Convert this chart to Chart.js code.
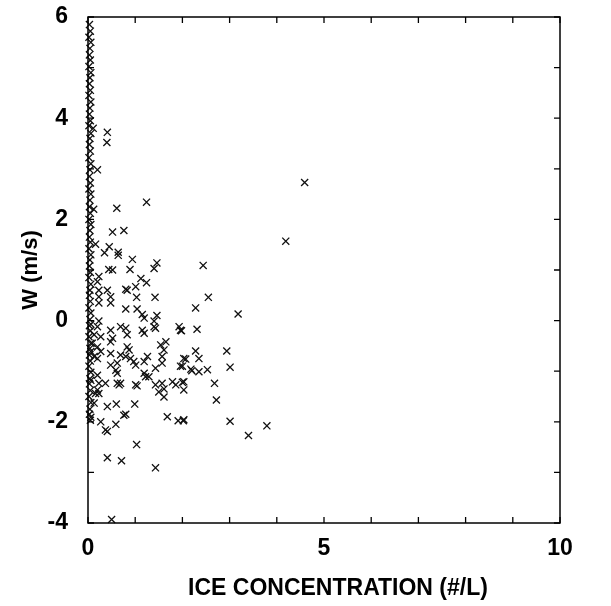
<!DOCTYPE html>
<html>
<head>
<meta charset="utf-8">
<script src="https://cdn.jsdelivr.net/npm/chart.js@4/dist/chart.umd.min.js"></script>
<style>
  html, body { margin: 0; padding: 0; background: #fff; }
  #wrap { width: 611px; height: 606px; }
</style>
</head>
<body>
<div id="wrap"><canvas id="c" width="611" height="606"></canvas></div>
<script>
// Ice concentration (#/L) against vertical velocity W (m/s)
const xRange = [0, 10];
const yRange = [-4, 6];
const xTickLabels = ['0', '5', '10'];
const yTickLabels = ['-4', '-2', '0', '2', '4', '6'];
const xTitle = 'ICE CONCENTRATION (#/L)';
const yTitle = 'W (m/s)';

// samples packed against the zero-concentration edge
const edgeConc = [
  0.03, 0.05, 0.02, 0.06, 0.04, 0.03, 0.05, 0.02, 0.06, 0.04,
  0.03, 0.05, 0.02, 0.06, 0.04, 0.03, 0.05, 0.02, 0.06, 0.04,
  0.03, 0.05, 0.02, 0.06, 0.04, 0.03, 0.05, 0.02, 0.06, 0.04,
  0.03, 0.05, 0.02, 0.06, 0.04, 0.03, 0.05, 0.02, 0.06, 0.04,
  0.03, 0.05, 0.02, 0.06, 0.04, 0.03, 0.05, 0.02, 0.06, 0.04,
  0.03, 0.05, 0.02, 0.06, 0.04, 0.03, 0.05, 0.02, 0.06, 0.04,
  0.03, 0.05, 0.02, 0.06, 0.04, 0.03, 0.05
];
const edgeW = [
  5.85, 5.72, 5.60, 5.50, 5.38, 5.25, 5.15, 5.02, 4.90, 4.80,
  4.68, 4.55, 4.45, 4.32, 4.20, 4.08, 3.95, 3.85, 3.70, 3.60,
  3.48, 3.35, 3.22, 3.10, 2.98, 2.85, 2.72, 2.60, 2.50, 2.38,
  2.25, 2.12, 2.00, 1.90, 1.78, 1.65, 1.55, 1.42, 1.30, 1.20,
  1.08, 0.95, 0.85, 0.72, 0.60, 0.50, 0.38, 0.25, 0.15, 0.02,
  -0.10, -0.20, -0.32, -0.45, -0.55, -0.68, -0.80, -0.90, -1.02, -1.15,
  -1.25, -1.38, -1.50, -1.62, -1.75, -1.85, -1.97
];

// remaining samples
const iceConc = [
  4.59, 4.19, 2.44, 2.55, 2.28, 3.18, 1.98, 2.31, 2.28, 2.94,
  2.35, 2.07, 2.00, 2.20, 2.35, 2.53, 3.01, 2.00, 2.03, 2.68,
  2.72, 2.02, 3.01, 3.79, 3.40,
  0.11, 0.41, 0.40, 0.20, 0.12,
  1.24, 0.61, 0.52, 0.76, 0.16, 0.45, 0.35, 0.64, 0.64, 0.94,
  1.46, 1.40, 0.44, 0.52, 0.89, 0.23, 0.20, 1.12, 1.24, 0.23,
  0.41, 0.80, 0.83, 1.01, 0.23, 0.48, 1.03, 1.42,
  0.23, 0.48, 0.80, 1.04, 1.15, 1.19, 1.46, 1.40, 0.23, 0.06,
  0.20, 0.69, 0.80, 0.48, 0.83, 1.15, 1.19, 1.40, 1.43, 1.93,
  1.96, 0.13, 0.27, 0.52, 0.48, 0.09, 0.20, 0.83, 0.87, 1.54,
  1.65, 1.61, 0.06, 0.27, 0.48, 0.13, 0.20, 0.69, 0.80, 0.90,
  1.26, 1.57, 2.03, 0.48, 0.62, 0.97, 1.01, 1.19, 1.57, 1.96,
  2.18, 0.59, 0.62, 1.43, 1.19, 1.22, 1.29, 0.20, 0.06, 0.23,
  0.62, 0.66, 0.69, 0.37, 1.01, 1.04, 1.43, 1.57, 1.61, 1.79,
  1.86, 2.03, 0.20,
  0.16, 0.23, 1.50, 1.61, 0.13, 0.41, 0.60, 0.99, 0.80, 0.76,
  0.06, 0.27, 0.59, 0.37, 0.41, 1.68, 1.91, 2.03, 1.03, 0.41,
  0.71, 1.43, 0.50
];
const wVel = [
  2.73, 1.57, 1.09, 0.46, 0.25, 0.13, -0.20, -0.17, -0.60, -0.60,
  -0.75, -0.76, -0.90, -0.99, -1.01, -0.97, -0.92, -1.22, -1.37, -1.24,
  -1.57, -1.98, -1.99, -2.08, -2.27,
  3.80, 3.72, 3.52, 2.98, 2.20,
  2.34, 2.22, 1.75, 1.78, 1.51, 1.46, 1.34, 1.35, 1.29, 1.21,
  1.14, 1.03, 1.01, 1.00, 1.01, 0.87, 0.77, 0.83, 0.75, 0.60,
  0.60, 0.62, 0.60, 0.67, 0.47, 0.47, 0.46, 0.46,
  0.35, 0.35, 0.23, 0.23, 0.12, 0.05, 0.10, -0.01, -0.01, -0.07,
  -0.12, -0.12, -0.15, -0.19, -0.28, -0.19, -0.25, -0.12, -0.15, -0.12,
  -0.19, -0.28, -0.32, -0.35, -0.42, -0.45, -0.52, -0.52, -0.58, -0.48,
  -0.42, -0.58, -0.61, -0.61, -0.65, -0.71, -0.75, -0.68, -0.71, -0.75,
  -0.71, -0.71, -0.75, -0.88, -0.84, -0.81, -0.88, -0.81, -0.84, -0.90,
  -0.96, -0.98, -1.04, -0.94, -1.04, -1.11, -1.11, -1.08, -1.18, -1.24,
  -1.24, -1.27, -1.24, -1.24, -1.27, -1.29, -1.27, -1.24, -1.35, -1.21,
  -1.27, -1.21, -1.37,
  -1.44, -1.44, -1.41, -1.51, -1.63, -1.70, -1.65, -1.65, -1.85, -1.87,
  -1.91, -2.00, -2.05, -2.16, -2.19, -1.90, -1.98, -1.96, -2.45, -2.71,
  -2.77, -2.91, -3.93
];

const points = [];
edgeConc.forEach((c, i) => points.push({ x: c, y: edgeW[i] }));
iceConc.forEach((c, i) => points.push({ x: c, y: wVel[i] }));

const FONT = "'Liberation Sans', Arial, sans-serif";

// closed frame with inward tick marks at every whole unit, plus the x title
const framePlugin = {
  id: 'frame',
  afterDatasetsDraw(chart) {
    const { ctx, chartArea: a, scales: { x, y } } = chart;
    ctx.save();
    ctx.strokeStyle = '#000';
    ctx.lineWidth = 1.5;
    ctx.strokeRect(a.left, a.top, a.right - a.left, a.bottom - a.top);
    ctx.lineWidth = 1.3;
    const t = 6;
    ctx.beginPath();
    for (let v = xRange[0]; v <= xRange[1]; v++) {
      const px = x.getPixelForValue(v);
      ctx.moveTo(px, a.bottom); ctx.lineTo(px, a.bottom - t);
      ctx.moveTo(px, a.top); ctx.lineTo(px, a.top + t);
    }
    for (let v = yRange[0]; v <= yRange[1]; v++) {
      const py = y.getPixelForValue(v);
      ctx.moveTo(a.left, py); ctx.lineTo(a.left + t, py);
      ctx.moveTo(a.right, py); ctx.lineTo(a.right - t, py);
    }
    ctx.stroke();

    ctx.fillStyle = '#000';
    ctx.font = 'bold 23px ' + FONT;
    ctx.textAlign = 'center';
    ctx.textBaseline = 'middle';
    ctx.fillText(xTitle, (a.left + a.right) / 2 + 14, 589);
    ctx.restore();
  }
};

new Chart(document.getElementById('c'), {
  type: 'scatter',
  data: {
    datasets: [{
      data: points,
      pointStyle: 'crossRot',
      pointRadius: 5,
      pointHoverRadius: 5,
      pointBorderWidth: 1.3,
      borderColor: '#111',
      backgroundColor: '#111',
      clip: false
    }]
  },
  options: {
    responsive: false,
    animation: false,
    events: [],
    layout: { padding: { top: 17, right: 51, left: 0, bottom: 0 } },
    plugins: { legend: { display: false }, tooltip: { enabled: false } },
    scales: {
      x: {
        type: 'linear',
        min: xRange[0], max: xRange[1],
        grid: { display: false, drawTicks: false },
        border: { display: false },
        ticks: {
          stepSize: 5,
          autoSkip: false,
          maxRotation: 0,
          padding: 12,
          color: '#000',
          font: { family: FONT, size: 23, weight: 'bold' },
          callback: (v) => xTickLabels.includes(String(v)) ? String(v) : ''
        },
        afterFit: (s) => { s.height = 83; s.paddingLeft = 0; s.paddingRight = 0; }
      },
      y: {
        type: 'linear',
        min: yRange[0], max: yRange[1],
        grid: { display: false, drawTicks: false },
        border: { display: false },
        ticks: {
          stepSize: 2,
          autoSkip: false,
          padding: 20,
          color: '#000',
          font: { family: FONT, size: 23, weight: 'bold' },
          callback: (v) => yTickLabels.includes(String(v)) ? String(v) : ''
        },
        title: {
          display: true,
          text: yTitle,
          color: '#000',
          font: { family: FONT, size: 22, weight: 'bold' },
          padding: { top: 18, bottom: 0 }
        },
        afterFit: (s) => { s.width = 88; s.paddingTop = 0; s.paddingBottom = 0; }
      }
    }
  },
  plugins: [framePlugin]
});
</script>
</body>
</html>
